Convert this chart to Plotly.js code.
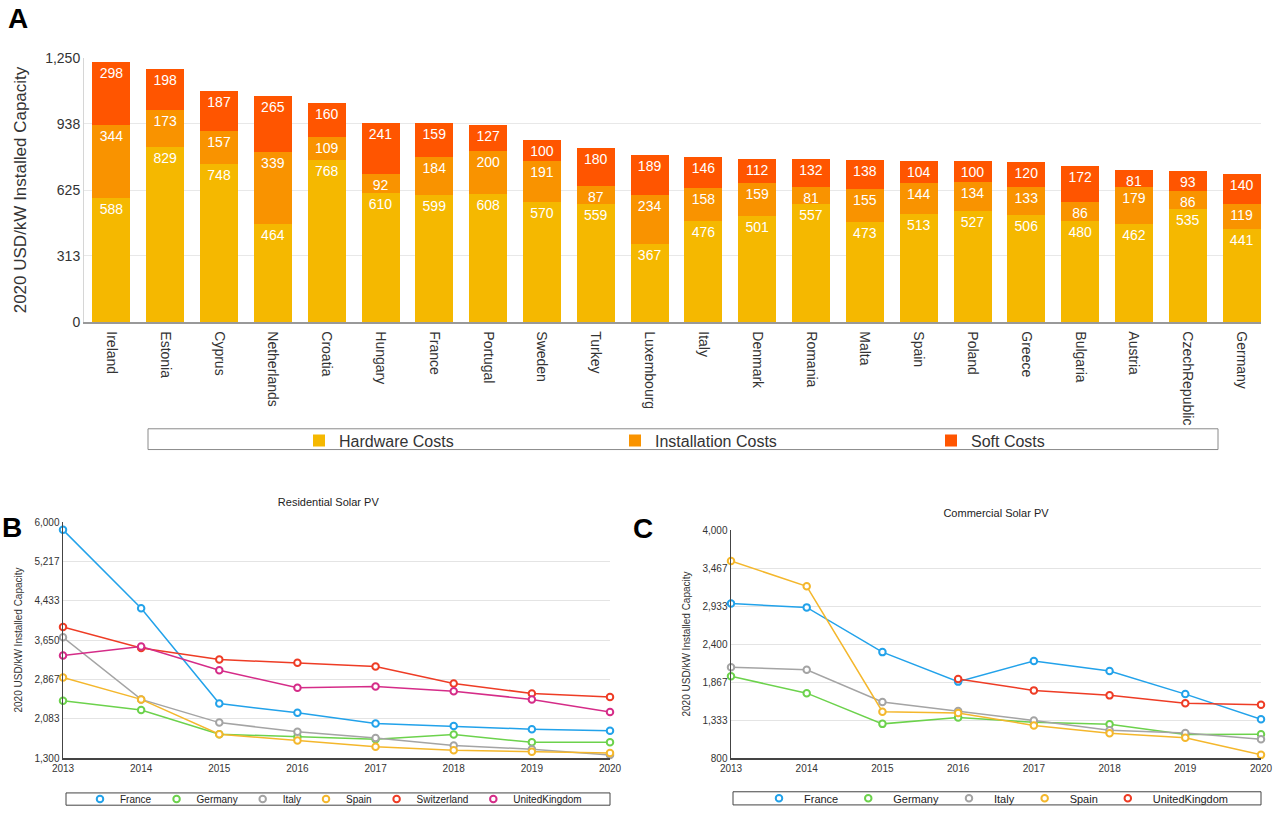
<!DOCTYPE html>
<html>
<head>
<meta charset="utf-8">
<script src="https://cdn.plot.ly/plotly-3.0.1.min.js"></script>
<style>
html,body{margin:0;padding:0;background:#fff;width:1274px;height:825px;overflow:hidden;}
#a{position:absolute;left:0;top:0;width:1274px;height:470px;}
#b{position:absolute;left:0;top:470px;width:640px;height:355px;}
#c{position:absolute;left:620px;top:470px;width:654px;height:355px;}
</style>
</head>
<body>
<div id="a"></div><div id="b"></div><div id="c"></div>
<script>
// ---------- Panel A data ----------
const countries = ["Ireland","Estonia","Cyprus","Netherlands","Croatia","Hungary","France","Portugal","Sweden","Turkey","Luxembourg","Italy","Denmark","Romania","Malta","Spain","Poland","Greece","Bulgaria","Austria","CzechRepublic","Germany"];
const hardwareCosts = [588,829,748,464,768,610,599,608,570,559,367,476,501,557,473,513,527,506,480,462,535,441];
const installationCosts = [344,173,157,339,109,92,184,200,191,87,234,158,159,81,155,144,134,133,86,179,86,119];
const softCosts = [298,198,187,265,160,241,159,127,100,180,189,146,112,132,138,104,100,120,172,81,93,140];
const costNames = ["Hardware Costs","Installation Costs","Soft Costs"];
const costColors = ["#F5B800","#F99300","#FF5500"];
const aTickVals = [0,313,625,938,1250];
const aTickText = ["0","313","625","938","1,250"];

// ---------- Panel B data (Residential) ----------
const years = [2013,2014,2015,2016,2017,2018,2019,2020];
const resFrance = [5844,4283,2386,2199,1986,1936,1874,1843];
const resGermany = [2442,2255,1774,1724,1674,1768,1612,1612];
const resItaly = [3703,2467,2005,1824,1699,1549,1475,1362];
const resSpain = [2904,2467,1774,1649,1524,1456,1425,1400];
const resSwitzerland = [3909,3491,3260,3197,3122,2785,2586,2517];
const resUK = [3341,3522,3048,2698,2723,2629,2467,2217];
const bTickVals = [1300,2083.33,2866.67,3650,4433.33,5216.67,6000];
const bTickText = ["1,300","2,083","2,867","3,650","4,433","5,217","6,000"];

// ---------- Panel C data (Commercial) ----------
const comFrance = [2967,2914,2286,1872,2162,2022,1697,1345];
const comGermany = [1947,1710,1279,1367,1301,1274,1129,1134];
const comItaly = [2075,2039,1587,1459,1327,1191,1151,1063];
const comSpain = [3565,3209,1450,1433,1257,1147,1085,844];
const comUK = [null,null,null,1908,1749,1679,1569,1547];
const cTickVals = [800,1333.33,1866.67,2400,2933.33,3466.67,4000];
const cTickText = ["800","1,333","1,867","2,400","2,933","3,467","4,000"];

const bColors = {France:"#22A2EA",Germany:"#6CD24C",Italy:"#A4A4A4",Spain:"#F4B72C",Switzerland:"#EE3C25",UnitedKingdom:"#D52C88"};
const cColors = {France:"#22A2EA",Germany:"#6CD24C",Italy:"#A4A4A4",Spain:"#F4B72C",UnitedKingdom:"#EE3C25"};
const FONT = "Liberation Sans, Arial, Helvetica, sans-serif";

// ---------- Panel A ----------
const aVals = [hardwareCosts, installationCosts, softCosts];
const aTraces = aVals.map((v,i)=>({
  type:"bar", x:countries, y:v, name:costNames[i],
  marker:{color:costColors[i], line:{width:0}},
  text:v.map(String), textposition:"inside", insidetextanchor:"end", textangle:0,
  textfont:{color:"#fff", size:14, family:FONT}, cliponaxis:false,
  hoverinfo:"none"
}));
const aPlotL=84, aPlotR=1261, aPlotT=58, aPlotB=325, aW=1274, aH=470;
const apx = px => (px-aPlotL)/(aPlotR-aPlotL);
const apy = py => 1-(py-aPlotT)/(aPlotB-aPlotT);
Plotly.newPlot("a", aTraces, {
  width:aW, height:aH, barmode:"stack", bargap:0.294,
  margin:{l:aPlotL, r:aW-aPlotR, t:aPlotT, b:aH-aPlotB},
  paper_bgcolor:"#fff", plot_bgcolor:"#fff",
  font:{family:FONT, color:"#333"},
  uniformtext:{minsize:14, mode:"show"},
  xaxis:{type:"category", range:[-0.51,21.36], tickangle:90, tickfont:{size:14,color:"#333"}, ticklabelstandoff:5,
    showline:true, linecolor:"#999", linewidth:1.5, ticks:"", showgrid:false, fixedrange:true},
  yaxis:{range:[0,1250], tickvals:aTickVals, ticktext:aTickText, tickfont:{size:14,color:"#333"},
    gridcolor:"#e8e8e8", showline:true, linecolor:"#d6d6d6", linewidth:1, zeroline:false, ticks:"",
    title:{text:"2020 USD/kW Installed Capacity", font:{size:17,color:"#333"}, standoff:14}},
  showlegend:true,
  legend:{orientation:"h", x:apx(299), xanchor:"left", y:apy(445), yanchor:"middle",
    entrywidth:271, font:{size:16,color:"#333"}, bgcolor:"rgba(0,0,0,0)", borderwidth:0, traceorder:"normal"},
  shapes:[{type:"rect", xref:"paper", yref:"paper", x0:apx(148), x1:apx(1218), y0:apy(454), y1:apy(433),
    line:{color:"#8a8a8a", width:1}, fillcolor:"rgba(0,0,0,0)"}],
  annotations:[{text:"<b>A</b>", xref:"paper", yref:"paper", x:apx(18), y:apy(18), xanchor:"center", yanchor:"middle",
    showarrow:false, font:{size:28, color:"#000", family:FONT}}]
}, {staticPlot:true});

// ---------- helper for line panels ----------
function linePanel(id, series, colors, opts){
  const traces=[];
  series.forEach(s=>{
    traces.push({type:"scatter", mode:"lines", x:years, y:s.y, name:s.name, showlegend:false,
      line:{color:colors[s.name], width:1.5}, connectgaps:false, cliponaxis:false, hoverinfo:"none"});
  });
  series.forEach(s=>{
    traces.push({type:"scatter", mode:"markers", x:years, y:s.y, name:s.name, showlegend:true,
      marker:{symbol:"circle", size:6.5, color:"#fff", line:{color:colors[s.name], width:2}},
      cliponaxis:false, hoverinfo:"none"});
  });
  const W=opts.W, H=opts.H, L=opts.L, R=opts.R, T=opts.T, B=opts.B;
  const px = p => (p-L)/(R-L);
  const py = p => 1-(p-T)/(B-T);
  Plotly.newPlot(id, traces, {
    width:W, height:H, margin:{l:L, r:W-R, t:T, b:H-B},
    paper_bgcolor:"rgba(0,0,0,0)", plot_bgcolor:"rgba(0,0,0,0)", font:{family:FONT, color:"#333"},
    title:{text:opts.title, font:{size:11,color:"#222"}, xref:"paper", x:opts.titleX, xanchor:"center",
      yref:"container", y:1-opts.titleY/H, yanchor:"middle"},
    xaxis:{range:[2013,2020], tickvals:years, ticktext:years.map(String), tickfont:{size:10,color:"#333"},
      showgrid:false, showline:true, linecolor:"#444", linewidth:1.5, zeroline:false, ticks:""},
    yaxis:{range:opts.yrange, tickvals:opts.tickVals, ticktext:opts.tickText, tickfont:{size:10,color:"#333"},
      gridcolor:"#e4e4e4", showline:true, linecolor:"#444", linewidth:1.5, zeroline:false, ticks:"",
      title:{text:"2020 USD/kW Installed Capacity", font:{size:10,color:"#333"}, standoff:opts.standoff}},
    showlegend:true,
    legend:{orientation:"h", x:px(opts.legX), xanchor:"left", y:py(opts.legY), yanchor:"middle",
      font:{size:opts.legFont,color:"#222"}, itemwidth:opts.itemwidth, bgcolor:"rgba(0,0,0,0)", borderwidth:0},
    shapes:[{type:"rect", xref:"paper", yref:"paper", x0:px(opts.box[0]), x1:px(opts.box[1]), y0:py(opts.box[3]), y1:py(opts.box[2]),
      line:{color:"#444", width:1}, fillcolor:"rgba(0,0,0,0)"}],
    annotations:[{text:"<b>"+opts.letter+"</b>", xref:"paper", yref:"paper", x:px(opts.letterPos[0]), y:py(opts.letterPos[1]),
      xanchor:"center", yanchor:"middle", showarrow:false, font:{size:28,color:"#000",family:FONT}}]
  }, {staticPlot:true});
}

linePanel("b", [
  {name:"France", y:resFrance},{name:"Germany", y:resGermany},{name:"Italy", y:resItaly},
  {name:"Spain", y:resSpain},{name:"Switzerland", y:resSwitzerland},{name:"UnitedKingdom", y:resUK}
], bColors, {W:640, H:355, L:63, R:610, T:52, B:302, title:"Residential Solar PV", titleX:0.485, titleY:32,
    yrange:[1300,6000], tickVals:bTickVals, tickText:bTickText, standoff:10,
    legX:80, legY:345.5, legFont:10, itemwidth:30, box:[66,610,339,352], letter:"B", letterPos:[12,58]});

// panel C div starts at page x = 620
linePanel("c", [
  {name:"France", y:comFrance},{name:"Germany", y:comGermany},{name:"Italy", y:comItaly},
  {name:"Spain", y:comSpain},{name:"UnitedKingdom", y:comUK}
], cColors, {W:654, H:355, L:111, R:641, T:60, B:303, title:"Commercial Solar PV", titleX:0.5, titleY:43,
    yrange:[800,4000], tickVals:cTickVals, tickText:cTickText, standoff:10,
    legX:134, legY:346, legFont:11, itemwidth:40, box:[113,641,339,353], letter:"C", letterPos:[23,58]});
</script>
</body>
</html>
